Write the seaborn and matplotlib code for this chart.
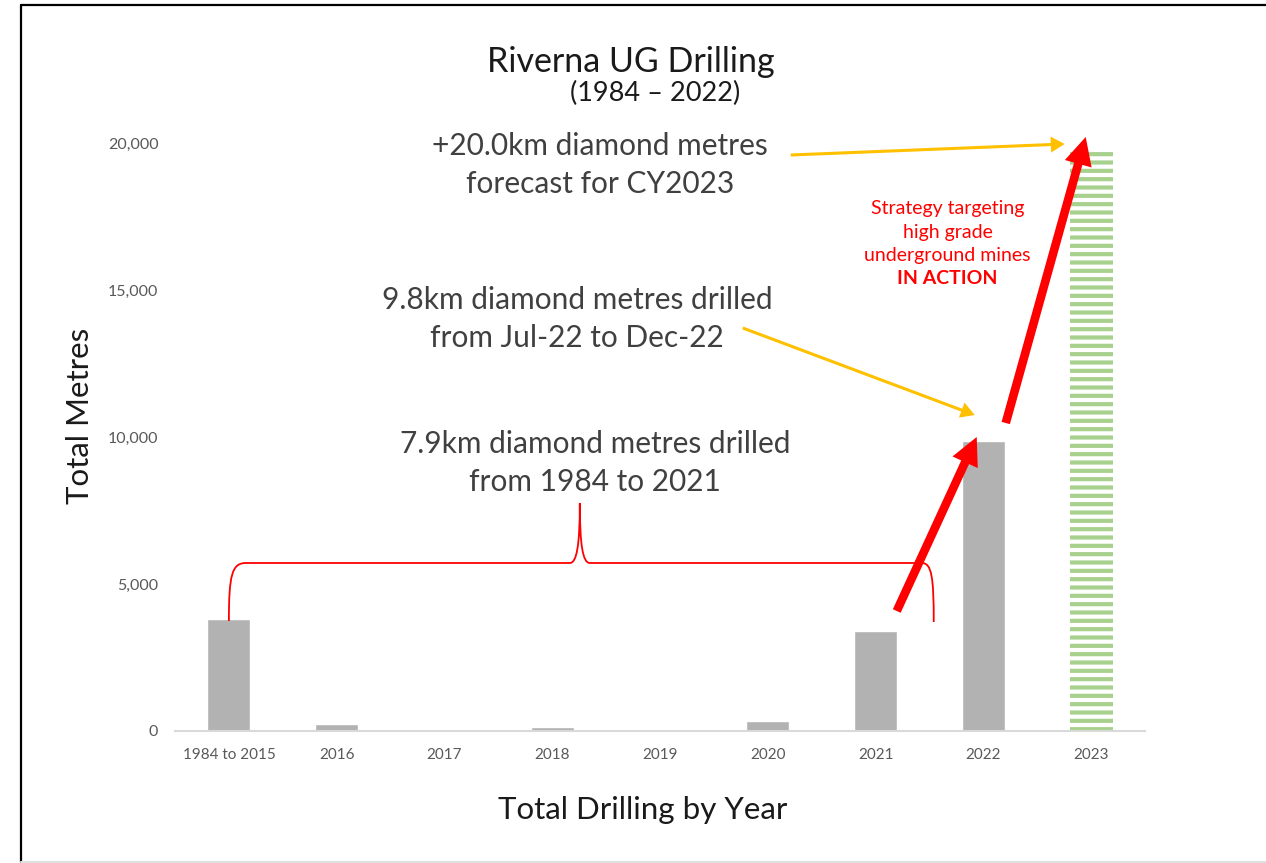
import matplotlib
matplotlib.use("Agg")
import matplotlib.pyplot as plt
import seaborn as sns
import pandas as pd
from matplotlib.path import Path
from matplotlib.patches import PathPatch
from matplotlib.lines import Line2D

# ---- data ----
categories = ["1984 to 2015", "2016", "2017", "2018", "2019", "2020", "2021", "2022", "2023"]
metres = [3800, 250, 0, 120, 0, 330, 3400, 9850, 19800]
y_ticks = [0, 5000, 10000, 15000, 20000]
y_tick_labels = ["0", "5,000", "10,000", "15,000", "20,000"]

title = "Riverna UG Drilling"
subtitle = "(1984 – 2022)"
note_forecast = "+20.0km diamond metres\nforecast for CY2023"
note_2022 = "9.8km diamond metres drilled\nfrom Jul-22 to Dec-22"
note_hist = "7.9km diamond metres drilled\nfrom 1984 to 2021"
strategy_lines = ["Strategy targeting", "high grade", "underground mines"]
strategy_bold = "IN ACTION"

sns.set_theme(style="white")
FONT = ["Lato", "DejaVu Sans"]
plt.rcParams["font.family"] = FONT
plt.rcParams["hatch.linewidth"] = 3.0

W, H = 1266, 863
fig = plt.figure(figsize=(W / 100, H / 100), dpi=100)
fig.patch.set_facecolor("white")

def fx(px):
    return px / W

def fy(py):
    return 1 - py / H

ax = fig.add_axes([fx(175), fy(731), fx(1145) - fx(175), fy(143) - fy(731)])

df = pd.DataFrame({"category": categories, "metres": metres})
sns.barplot(data=df, x="category", y="metres", color="#B2B2B2", saturation=1,
            width=0.4, ax=ax, zorder=2)

# last bar (forecast) striped green
last = ax.patches[len(categories) - 1]
last.set_facecolor("white")
last.set_edgecolor("#A9D18E")
last.set_linewidth(0)
last.set_hatch("--")

ax.set_xlim(-0.5, len(categories) - 0.5)
ax.set_ylim(0, 20000)
ax.set_yticks(y_ticks)
ax.set_yticklabels(y_tick_labels)
ax.set_xlabel("")
ax.set_ylabel("")
for s in ["top", "right", "left"]:
    ax.spines[s].set_visible(False)
ax.spines["bottom"].set_color("#D9D9D9")
ax.spines["bottom"].set_linewidth(1.5)
ax.tick_params(axis="x", length=0, labelsize=11, labelcolor="#595959", pad=12)
ax.tick_params(axis="y", length=0, labelsize=11.5, labelcolor="#595959", pad=12)
ax.grid(False)

# axis titles
fig.text(fx(643), fy(810), "Total Drilling by Year", ha="center", va="center",
         fontsize=22.5, color="#1a1a1a")
fig.text(fx(80), fy(416), "Total Metres", ha="center", va="center",
         rotation=90, fontsize=22.5, color="#1a1a1a")

# title
fig.text(fx(631), fy(62), title, ha="center", va="center", fontsize=24.5,
         color="#1a1a1a")
fig.text(fx(655), fy(93), subtitle, ha="center", va="center", fontsize=19.5,
         color="#1a1a1a")

# helpers to convert reference pixel to data coords
def dx(px):
    return (px - 229) / 107.8

def dy(py):
    return (731 - py) / 0.0294

txt_kw = dict(ha="center", va="center", fontsize=21.5, color="#404040",
              linespacing=1.42, clip_on=False)
ax.text(dx(600), dy(165), note_forecast, **txt_kw)
ax.text(dx(577), dy(319), note_2022, **txt_kw)
ax.text(dx(595), dy(463), note_hist, **txt_kw)

# red strategy text
red = "#FF0000"
for i, line in enumerate(strategy_lines):
    ax.text(dx(948), dy(209 + 23 * i), line, ha="center", va="center",
            fontsize=14, color=red, clip_on=False)
ax.text(dx(948), dy(278), strategy_bold, ha="center", va="center",
        fontsize=14, color=red, fontweight="bold", clip_on=False)

# yellow arrows
yel = "#FFC000"
yel_style = "simple,head_length=1.0,head_width=1.15,tail_width=0.22"
ax.annotate("", xy=(dx(1065), dy(144)), xytext=(dx(791), dy(155)),
            arrowprops=dict(arrowstyle=yel_style, color=yel, lw=0,
                            shrinkA=0, shrinkB=0, mutation_scale=10),
            annotation_clip=False)
ax.annotate("", xy=(dx(975), dy(415)), xytext=(dx(743), dy(328)),
            arrowprops=dict(arrowstyle=yel_style, color=yel, lw=0,
                            shrinkA=0, shrinkB=0, mutation_scale=10),
            annotation_clip=False)

# red arrows
red_style = "simple,head_length=2.0,head_width=2.0,tail_width=0.62"
ax.annotate("", xy=(dx(977), dy(437)), xytext=(dx(897), dy(611)),
            arrowprops=dict(arrowstyle=red_style, color=red, lw=0,
                            shrinkA=0, shrinkB=0, mutation_scale=10),
            annotation_clip=False, zorder=5)
ax.annotate("", xy=(dx(1086), dy(137)), xytext=(dx(1006), dy(423)),
            arrowprops=dict(arrowstyle=red_style, color=red, lw=0,
                            shrinkA=0, shrinkB=0, mutation_scale=10),
            annotation_clip=False, zorder=5)

# red brace
pts = [(229, 621), (229, 575), (232, 563), (246, 563),
       (570, 563), (577, 563), (580, 545), (580, 503),
       (580, 545), (583, 563), (590, 563),
       (922, 563), (932, 563), (934, 577), (934, 622)]
codes = [Path.MOVETO, Path.CURVE4, Path.CURVE4, Path.CURVE4,
         Path.LINETO, Path.CURVE4, Path.CURVE4, Path.CURVE4,
         Path.CURVE4, Path.CURVE4, Path.CURVE4,
         Path.LINETO, Path.CURVE4, Path.CURVE4, Path.CURVE4]
brace = Path([(dx(x), dy(y)) for x, y in pts], codes)
ax.add_patch(PathPatch(brace, facecolor="none", edgecolor=red, lw=1.3,
                       clip_on=False, zorder=4))

# slide frame
fig.add_artist(Line2D([fx(21), fx(21)], [fy(5.5), fy(862)], color="black", lw=1.6))
fig.add_artist(Line2D([fx(21), 1.0], [fy(5.5), fy(5.5)], color="black", lw=1.6))
fig.add_artist(Line2D([fx(21), 1.0], [fy(862), fy(862)], color="#E0E0E0", lw=1.5))

fig.savefig("out.png", dpi=100, facecolor="white")
